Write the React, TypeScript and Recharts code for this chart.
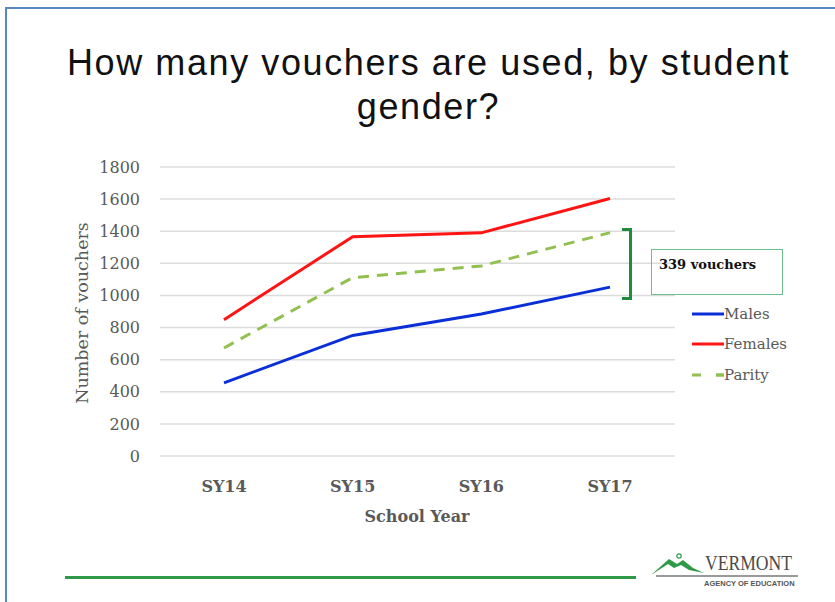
import React from "react";
import { LineChart, Line, XAxis, YAxis, CartesianGrid } from "recharts";

const years = ["SY14", "SY15", "SY16", "SY17"];
const males = [456, 751, 884, 1052];
const females = [849, 1366, 1390, 1604];
const parity = [673, 1111, 1184, 1391];
const yTicks = [0, 200, 400, 600, 800, 1000, 1200, 1400, 1600, 1800];

const data = years.map((year, i) => ({
  year,
  males: males[i],
  females: females[i],
  parity: parity[i],
}));

const serif = "'DejaVu Serif', serif";
const gray = "#595959";

function LegendRow({ color, dashed, label, top }: { color: string; dashed?: boolean; label: string; top: number }) {
  return (
    <div style={{ position: "absolute", left: 692, top, display: "flex", alignItems: "center" }}>
      <svg width={32} height={6}>
        <line
          x1={0}
          y1={3}
          x2={32}
          y2={3}
          stroke={color}
          strokeWidth={3}
          strokeDasharray={dashed ? "9 15" : undefined}
        />
        {dashed && <line x1={24} y1={3} x2={32} y2={3} stroke={color} strokeWidth={3} />}
      </svg>
      <span style={{ fontFamily: serif, fontSize: 15, color: gray, lineHeight: "18px" }}>{label}</span>
    </div>
  );
}

function VermontLogo() {
  return (
    <div style={{ position: "absolute", left: 648, top: 548, width: 160, height: 46 }}>
      <svg width={60} height={30} style={{ position: "absolute", left: 0, top: 0 }}>
        <path d="M3 27 L21 11 L29 16 L35 12 L45 20 L56 25 L41 22 L33 17 L26 20 L20 16 Z" fill="#2e9a48" />
        <circle cx={31} cy={8} r={2.2} fill="none" stroke="#2e9a48" strokeWidth={1.2} />
      </svg>
      <div
        style={{
          position: "absolute",
          left: 57,
          top: 5,
          fontFamily: "'Liberation Serif', serif",
          fontSize: 20,
          lineHeight: "20px",
          color: "#4a4a4a",
          transform: "scaleX(0.88)",
          transformOrigin: "left top",
          whiteSpace: "nowrap",
        }}
      >
        VERMONT
      </div>
      <div style={{ position: "absolute", left: 8, top: 27, width: 142, height: 2, background: "#9a9a9a" }} />
      <div
        style={{
          position: "absolute",
          left: 56,
          top: 31,
          fontFamily: "'Liberation Sans', sans-serif",
          fontSize: 7.5,
          lineHeight: "9px",
          fontWeight: "bold",
          color: "#555",
          whiteSpace: "nowrap",
        }}
      >
        AGENCY OF EDUCATION
      </div>
    </div>
  );
}

export default function App() {
  return (
    <div
      style={{
        position: "absolute",
        left: 0,
        top: 0,
        width: 835,
        height: 602,
        background: "#fff",
        overflow: "hidden",
      }}
    >
      {/* slide frame */}
      <div
        style={{
          position: "absolute",
          left: 5,
          top: 7,
          width: 860,
          height: 640,
          borderLeft: "2px solid #5b86c5",
          borderTop: "2px solid #5b86c5",
        }}
      />
      <div
        style={{
          position: "absolute",
          left: 0,
          top: 41,
          width: 857,
          textAlign: "center",
          fontFamily: "'Liberation Sans', sans-serif",
          fontSize: 36,
          letterSpacing: 1.6,
          lineHeight: "44px",
          color: "#111",
        }}
      >
        How many vouchers are used, by student
        <br />
        gender?
      </div>

      <div style={{ position: "absolute", left: 0, top: 0 }}>
        <LineChart
          width={835}
          height={602}
          data={data}
          margin={{ top: 167, right: 160, bottom: 86, left: 80 }}
        >
          <CartesianGrid vertical={false} stroke="#dcdcdc" strokeWidth={1.5} />
          <XAxis
            dataKey="year"
            axisLine={false}
            tickLine={false}
            height={60}
            padding={{ left: 64, right: 65 }}
            tickMargin={19}
            tick={{ fontFamily: serif, fontSize: 16, fontWeight: "bold", fill: gray }}
          />
          <YAxis
            domain={[0, 1800]}
            ticks={yTicks}
            width={80}
            axisLine={false}
            tickLine={false}
            tickMargin={14}
            tick={{ fontFamily: serif, fontSize: 16, fill: gray }}
          />
          <Line
            dataKey="females"
            stroke="#ff1414"
            strokeWidth={3}
            dot={false}
            isAnimationActive={false}
          />
          <Line
            dataKey="parity"
            stroke="#92c050"
            strokeWidth={3}
            strokeDasharray="11 8"
            dot={false}
            isAnimationActive={false}
          />
          <Line
            dataKey="males"
            stroke="#0a2fd6"
            strokeWidth={3}
            dot={false}
            isAnimationActive={false}
          />
        </LineChart>
      </div>

      {/* axis titles */}
      <div
        style={{
          position: "absolute",
          left: 82,
          top: 313,
          transform: "translate(-50%, -50%) rotate(-90deg)",
          whiteSpace: "nowrap",
          fontFamily: serif,
          fontSize: 17.5,
          color: gray,
        }}
      >
        Number of vouchers
      </div>
      <div
        style={{
          position: "absolute",
          left: 417,
          top: 516,
          transform: "translate(-50%, -50%)",
          whiteSpace: "nowrap",
          fontFamily: serif,
          fontSize: 16,
          fontWeight: "bold",
          color: gray,
        }}
      >
        School Year
      </div>

      {/* gap bracket */}
      <div
        style={{
          position: "absolute",
          left: 622,
          top: 228,
          width: 7,
          height: 66,
          borderTop: "3px solid #1e8c3c",
          borderBottom: "3px solid #1e8c3c",
          borderRight: "3px solid #1e8c3c",
        }}
      />
      <div
        style={{
          position: "absolute",
          left: 651,
          top: 249,
          width: 132,
          height: 46,
          border: "1px solid #6cc08a",
          boxSizing: "border-box",
          fontFamily: serif,
          fontSize: 13,
          fontWeight: "bold",
          color: "#111",
          padding: "7px 0 0 7px",
        }}
      >
        339 vouchers
      </div>

      <LegendRow color="#0a2fd6" label="Males" top={305} />
      <LegendRow color="#ff1414" label="Females" top={335} />
      <LegendRow color="#92c050" label="Parity" dashed top={366} />

      <div
        style={{
          position: "absolute",
          left: 65,
          top: 576,
          width: 571,
          height: 3,
          background: "#2e9a48",
        }}
      />
      <VermontLogo />
    </div>
  );
}
